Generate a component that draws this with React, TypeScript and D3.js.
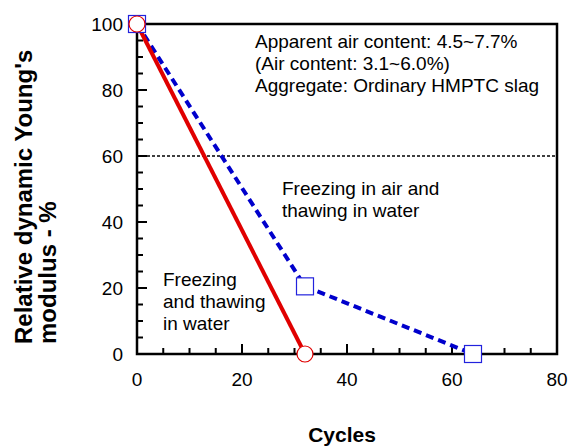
import React from "react";
import * as d3 from "d3";

const redX = [0, 32];
const redY = [100, 0];
const blueX = [0, 32, 64];
const blueY = [100, 20.5, 0];
const xTicks = [0, 20, 40, 60, 80];
const yTicks = [0, 20, 40, 60, 80, 100];
const refLine = 60;
const noteLines = [
  "Apparent air content: 4.5~7.7%",
  "(Air content: 3.1~6.0%)",
  "Aggregate: Ordinary HMPTC slag",
];

export default function App() {
  const W = 571, H = 446;
  const L = 137, R = 557, T = 24, B = 354;
  const x = d3.scaleLinear().domain([0, 80]).range([L, R]);
  const y = d3.scaleLinear().domain([0, 100]).range([B, T]);
  const font = "'Liberation Sans', Arial, sans-serif";
  const line = d3.line<[number, number]>().x((d) => x(d[0])).y((d) => y(d[1]));
  const red = redX.map((v, i) => [v, redY[i]] as [number, number]);
  const blue = blueX.map((v, i) => [v, blueY[i]] as [number, number]);
  const xMinor = d3.range(0, 81, 5);
  const yMinor = d3.range(0, 101, 5);
  return (
    <svg width={W} height={H} style={{ position: "absolute", left: 0, top: 0 }} fontFamily={font}>
      <rect width={W} height={H} fill="#fff" />
      <line x1={x(0)} x2={x(80)} y1={y(refLine)} y2={y(refLine)} stroke="#000" strokeWidth={1.5} strokeDasharray="3,2" />
      {xMinor.map((v) => (
        <line key={"xt" + v} x1={x(v)} x2={x(v)} y1={B} y2={B - (v % 20 === 0 ? 10 : 6)} stroke="#000" strokeWidth={2} />
      ))}
      {yMinor.map((v) => (
        <line key={"yt" + v} x1={L} x2={L + (v % 20 === 0 ? 10 : 6)} y1={y(v)} y2={y(v)} stroke="#000" strokeWidth={2} />
      ))}
      <rect x={L} y={T} width={R - L} height={B - T} fill="none" stroke="#000" strokeWidth={2.5} />
      <path d={line(blue) || ""} fill="none" stroke="#0000cc" strokeWidth={4} strokeDasharray="8,5" />
      <path d={line(red) || ""} fill="none" stroke="#e00000" strokeWidth={4} />
      {blue.map((d, i) => (
        <rect key={"b" + i} x={x(d[0]) - 8.5} y={y(d[1]) - 8.5} width={17} height={17} fill="#fff" stroke="#2222dd" strokeWidth={1.2} />
      ))}
      {red.map((d, i) => (
        <circle key={"r" + i} cx={x(d[0])} cy={y(d[1])} r={8} fill="#fff" stroke="#e00000" strokeWidth={1.2} />
      ))}
      {xTicks.map((v) => (
        <text key={"xl" + v} x={x(v)} y={386} textAnchor="middle" fontSize={19}>{v}</text>
      ))}
      {yTicks.map((v) => (
        <text key={"yl" + v} x={123} y={y(v) + 7} textAnchor="end" fontSize={19}>{v}</text>
      ))}
      {noteLines.map((s, i) => (
        <text key={"n" + i} x={255} y={48 + i * 22} fontSize={19}>{s}</text>
      ))}
      <text x={282} y={195} fontSize={19}>Freezing in air and</text>
      <text x={282} y={217} fontSize={19}>thawing in water</text>
      <text x={163} y={286} fontSize={19}>Freezing</text>
      <text x={163} y={308} fontSize={19}>and thawing</text>
      <text x={163} y={330} fontSize={19}>in water</text>
      <text x={342} y={442} textAnchor="middle" fontSize={21} fontWeight="bold">Cycles</text>
      <text transform="translate(32,344) rotate(-90)" textAnchor="start" fontSize={24} fontWeight="bold">Relative dynamic Young's</text>
      <text transform="translate(56,344) rotate(-90)" textAnchor="start" fontSize={24} fontWeight="bold">modulus - %</text>
    </svg>
  );
}
